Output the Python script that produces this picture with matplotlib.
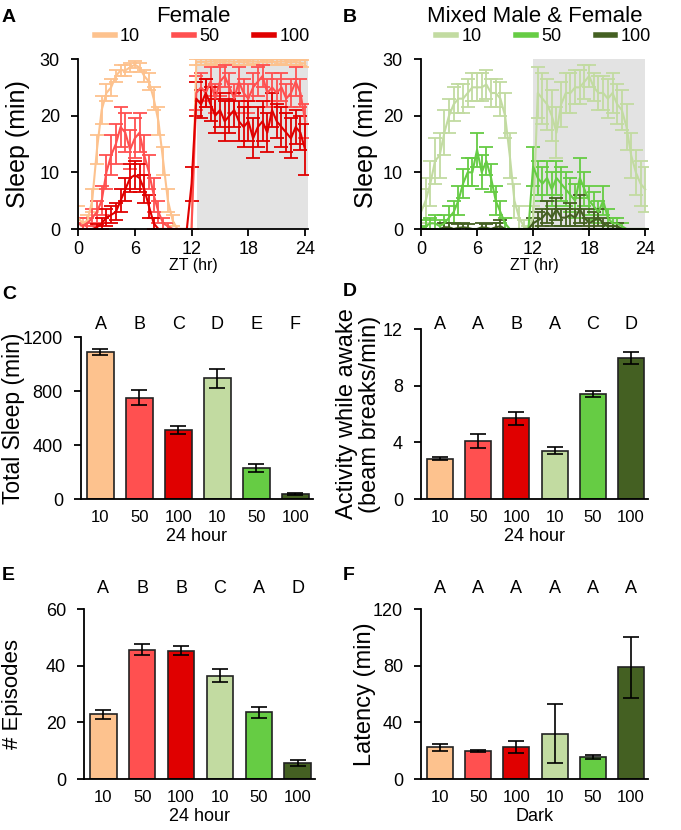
import numpy as np
import matplotlib.pyplot as plt

plt.rcParams['font.family'] = ['Liberation Sans', 'DejaVu Sans']

# ---------------- time course data (30 min bins, ZT 0..24) ----------------
zt = np.arange(49) * 0.5

fem10 = [2, 1, 1.5, 5, 14, 21, 24, 25, 27, 28, 28, 28.5, 29, 28.5, 27, 26, 23, 19, 12, 5,
         1.5, 0, 0, 0, 0, 29.5, 29.5, 29.5, 29.6, 29.5, 29.4, 29.5, 29.6, 29.5, 29.5, 29.4, 29.5,
         29.6, 29.5, 29.5, 29.4, 29.5, 29.5, 29.6, 29.5, 29.4, 29.5, 29.3, 29.2]
fem10_err = [2, 1, 1, 2, 2.5, 2.5, 1.5, 1.5, 1, 1, 1, 0.8, 0.6, 0.8, 1, 1.5, 2, 2.5, 2.5, 2,
             1, 0, 0, 0, 0, 0.5, 0.5, 0.5, 0.4, 0.5, 0.5, 0.5, 0.4, 0.5, 0.5, 0.5, 0.5,
             0.4, 0.5, 0.5, 0.5, 0.5, 0.5, 0.4, 0.5, 0.5, 0.5, 0.6, 0.7]

fem50 = [1, 0.5, 1, 2, 3, 5, 10, 13, 15, 18, 17, 14, 16, 17, 13, 10, 6, 3, 1, 0.5,
         0, 0, 0, 0, 0, 24, 25, 24, 26, 23, 26, 27, 25, 23, 26, 24, 23, 25,
         26, 27, 24, 25, 24, 25, 23, 24, 26, 24, 19]
fem50_err = [1, 0.5, 1, 1.5, 2, 2.5, 3, 3.5, 3.5, 3.5, 3.5, 3.5, 3.5, 3.5, 3.5, 3, 3, 2, 1, 0.5,
             0, 0, 0, 0, 0, 3, 2.5, 2.5, 2.5, 2.5, 2.5, 2, 2.5, 2.5, 2.5, 2.5, 2.5, 2.5,
             2.5, 2, 2.5, 2.5, 2.5, 2.5, 2.5, 2.5, 2.5, 2.5, 3]

fem100 = [0, 0, 0, 0, 0.3, 1, 2, 2.5, 3, 5, 7, 9, 9.5, 9, 7, 4, 1, 0, 0, 0,
          0, 0, 0, 0, 8, 23, 22, 24, 22, 20, 21, 19, 20, 21, 19, 18, 19, 16,
          18, 19, 17, 21, 19, 18, 17, 16, 18, 17, 14]
fem100_err = [0, 0, 0, 0, 0.5, 1, 1.5, 1.5, 1.5, 2, 2, 2.5, 2.5, 2.5, 2.5, 2, 1, 0, 0, 0,
              0, 0, 0, 0, 3, 3, 2.5, 2.5, 3, 3, 3, 3.5, 3, 3, 3.5, 3.5, 3.5, 3.5,
              3.5, 3.5, 3.5, 3, 3, 3.5, 3.5, 3.5, 3, 3, 4.5]

mix10 = [3, 5, 8, 12, 13, 17, 20, 22, 23, 23, 24, 25, 25, 25, 25.5, 24, 24, 23, 20, 13,
         5, 2, 0.5, 0, 2, 24, 23, 22, 20, 17, 22, 24, 24, 25, 25, 26, 27, 25,
         24, 24, 23, 24, 22, 21, 18, 13, 10, 8, 7]
mix10_err = [4, 4, 4, 4, 4, 4, 3, 3, 2.5, 2.5, 2.5, 2.5, 2.5, 2.5, 2.5, 2.5, 2.5, 3, 4, 4,
             3, 2, 1, 0.5, 2, 4.5, 4.5, 4.5, 4.5, 4.5, 4, 3.5, 3.5, 3, 3, 3, 2, 2.5,
             3, 3, 3.5, 3.5, 3.5, 3.5, 4, 4, 4, 4, 4]

mix50 = [0, 0.5, 1, 1, 0.5, 1, 2, 3, 5, 8, 10, 10, 14, 10, 12, 9, 5, 3, 1, 0,
         0, 0, 0, 0, 11, 9, 8, 9, 7, 9, 8, 7, 6, 5, 9, 7, 5, 4,
         3, 5, 2, 1, 1, 0.5, 0, 0, 0, 0, 0]
mix50_err = [0.5, 1, 1, 1.5, 1, 1.5, 2, 2, 2.5, 2.5, 2.5, 2.5, 3, 3, 2.5, 2.5, 2.5, 2, 1, 0,
             0, 0, 0, 0, 3.5, 3, 3, 3, 3, 3, 3, 3, 3, 3, 3.5, 3, 2.5, 2.5,
             2, 2.5, 1.5, 1, 1, 0.5, 0, 0, 0, 0, 0]

mix100 = [0, 0, 0, 0, 0, 0.3, 0.3, 0, 0.2, 0.3, 0.2, 0, 0, 0.3, 0.2, 0, 0.3, 0.5, 0, 0,
          0, 0, 0, 0, 1, 1.5, 2, 3, 2, 3.5, 2, 2, 2.5, 2, 3.5, 2, 1, 1.5,
          2, 1, 0.5, 0.5, 0.5, 0, 0, 0, 0, 0, 0]
mix100_err = [0, 0, 0, 0, 0, 0.7, 0.7, 0, 0.6, 0.7, 0.6, 0, 0, 0.8, 0.6, 0, 0.8, 1, 0, 0,
              0, 0, 0, 0, 1, 1.5, 1.5, 2, 1.5, 2, 1.5, 1.5, 2, 1.5, 2.5, 1.5, 1, 1.5,
              1.5, 1, 0.5, 0.5, 0.5, 0, 0, 0, 0, 0, 0]

# ---------------- bar data ----------------
groups = ["10", "50", "100", "10", "50", "100"]
colors = ["#FDC28E", "#FF5050", "#E00000", "#C2DBA1", "#66CC44", "#446022"]

total_sleep = [1090, 750, 510, 895, 230, 40]
total_sleep_err = [20, 55, 30, 70, 30, 8]
activity = [2.85, 4.1, 5.7, 3.4, 7.4, 9.95]
activity_err = [0.12, 0.5, 0.45, 0.25, 0.2, 0.45]
episodes = [22.8, 45.6, 45.3, 36.5, 23.5, 5.6]
episodes_err = [1.5, 2.0, 1.7, 2.2, 1.9, 1.0]
latency = [22.5, 19.8, 22.5, 32, 15.5, 79]
latency_err = [2.5, 0.7, 4.2, 21, 1.2, 21.5]

letters_c = ["A", "B", "C", "D", "E", "F"]
letters_d = ["A", "A", "B", "A", "C", "D"]
letters_e = ["A", "B", "B", "C", "A", "D"]
letters_f = ["A", "A", "A", "A", "A", "A"]

W, H = 681, 830
fig = plt.figure(figsize=(W / 100, H / 100), dpi=100)


def box(x0, x1, ytop, ybot):
    return [x0 / W, 1 - ybot / H, (x1 - x0) / W, (ybot - ytop) / H]


def style(ax):
    for s in ["top", "right"]:
        ax.spines[s].set_visible(False)
    for s in ["left", "bottom"]:
        ax.spines[s].set_linewidth(1.3)
    ax.tick_params(width=1.3, length=5, labelsize=11.5)


def timecourse(rect, series, title, shade, names, lx):
    ax = fig.add_axes(rect)
    ax.axvspan(shade[0], shade[1], color="#E3E3E3", lw=0, zorder=0)
    handles = []
    for y, e, c in series:
        ax.errorbar(zt, y, yerr=e, color=c, lw=1.5, elinewidth=1.3, capsize=5, capthick=1.3, zorder=2)
        handles.append(plt.Line2D([], [], color=c, lw=4))
    ax.set_xlim(0, 24.3)
    ax.set_ylim(0, 30)
    ax.set_xticks([0, 6, 12, 18, 24])
    ax.set_yticks([0, 10, 20, 30])
    ax.set_ylabel("Sleep (min)", fontsize=18)
    ax.yaxis.set_label_coords(lx, 0.5)
    ax.set_xlabel("ZT (hr)", fontsize=11.5, labelpad=0)
    style(ax)
    ax.tick_params(labelsize=13)
    ax.tick_params(axis="y", pad=8)
    ax.set_title(title, fontsize=16, pad=27)
    ax.legend(handles, names, loc="lower center", bbox_to_anchor=(0.54, 1.04), ncol=3, frameon=False,
              fontsize=13, handlelength=1.1, handletextpad=0.3, columnspacing=1.9, borderaxespad=0)
    return ax


timecourse(box(78, 308, 59, 229),
           [(fem10, fem10_err, colors[0]), (fem50, fem50_err, colors[1]), (fem100, fem100_err, colors[2])],
           "Female", (12.6, 24.3), ["10", "50", "100"], -0.21)
timecourse(box(421, 648, 59, 229),
           [(mix10, mix10_err, colors[3]), (mix50, mix50_err, colors[4]), (mix100, mix100_err, colors[5])],
           "Mixed Male & Female", (12, 24), ["10", "50", "100"], -0.19)


def bars(rect, vals, errs, ymax, ticks, ylabel, xlabel, letters, ly, lsize, lx):
    ax = fig.add_axes(rect)
    x = np.arange(len(vals))
    ax.bar(x, vals, width=0.68, color=colors, edgecolor="#222222", linewidth=1.2, zorder=2)
    ax.errorbar(x, vals, yerr=errs, fmt="none", ecolor="black", elinewidth=1.2, capsize=6, capthick=1.2, zorder=3)
    ax.set_xlim(-0.5, 5.45)
    ax.set_ylim(0, ymax)
    ax.set_yticks(ticks)
    ax.set_xticks(x)
    ax.set_xticklabels(groups)
    style(ax)
    ax.tick_params(axis="y", labelsize=13, pad=8)
    ax.tick_params(axis="x", length=0, pad=8, labelsize=12)
    ax.set_ylabel(ylabel, fontsize=lsize, linespacing=1.1)
    ax.yaxis.set_label_coords(lx, 0.5)
    ax.set_xlabel(xlabel, fontsize=13, labelpad=2)
    for xi, t in zip(x, letters):
        ax.text(xi, ly, t, transform=ax.get_xaxis_transform(), ha="center", va="center", fontsize=13)
    return ax


bars(box(81, 313, 337, 499), total_sleep, total_sleep_err, 1200, [0, 400, 800, 1200],
     "Total Sleep (min)", "24 hour", letters_c, 1.075, 16.5, -0.24)
bars(box(421, 648, 329, 499), activity, activity_err, 12, [0, 4, 8, 12],
     "Activity while awake\n(beam breaks/min)", "24 hour", letters_d, 1.025, 17, -0.175)
bars(box(84, 315, 609, 779), episodes, episodes_err, 60, [0, 20, 40, 60],
     "# Episodes", "24 hour", letters_e, 1.12, 16, -0.264)
bars(box(421, 648, 609, 779), latency, latency_err, 120, [0, 40, 80, 120],
     "Latency (min)", "Dark", letters_f, 1.12, 17, -0.2)

for t, x, y in [("A", 2, 18), ("B", 343, 18), ("C", 2, 294), ("D", 343, 292), ("E", 2, 575), ("F", 343, 575)]:
    fig.text(x / W, 1 - y / H, t, fontsize=14, fontweight="bold", va="center", ha="left")

fig.savefig("out.png", dpi=100)
